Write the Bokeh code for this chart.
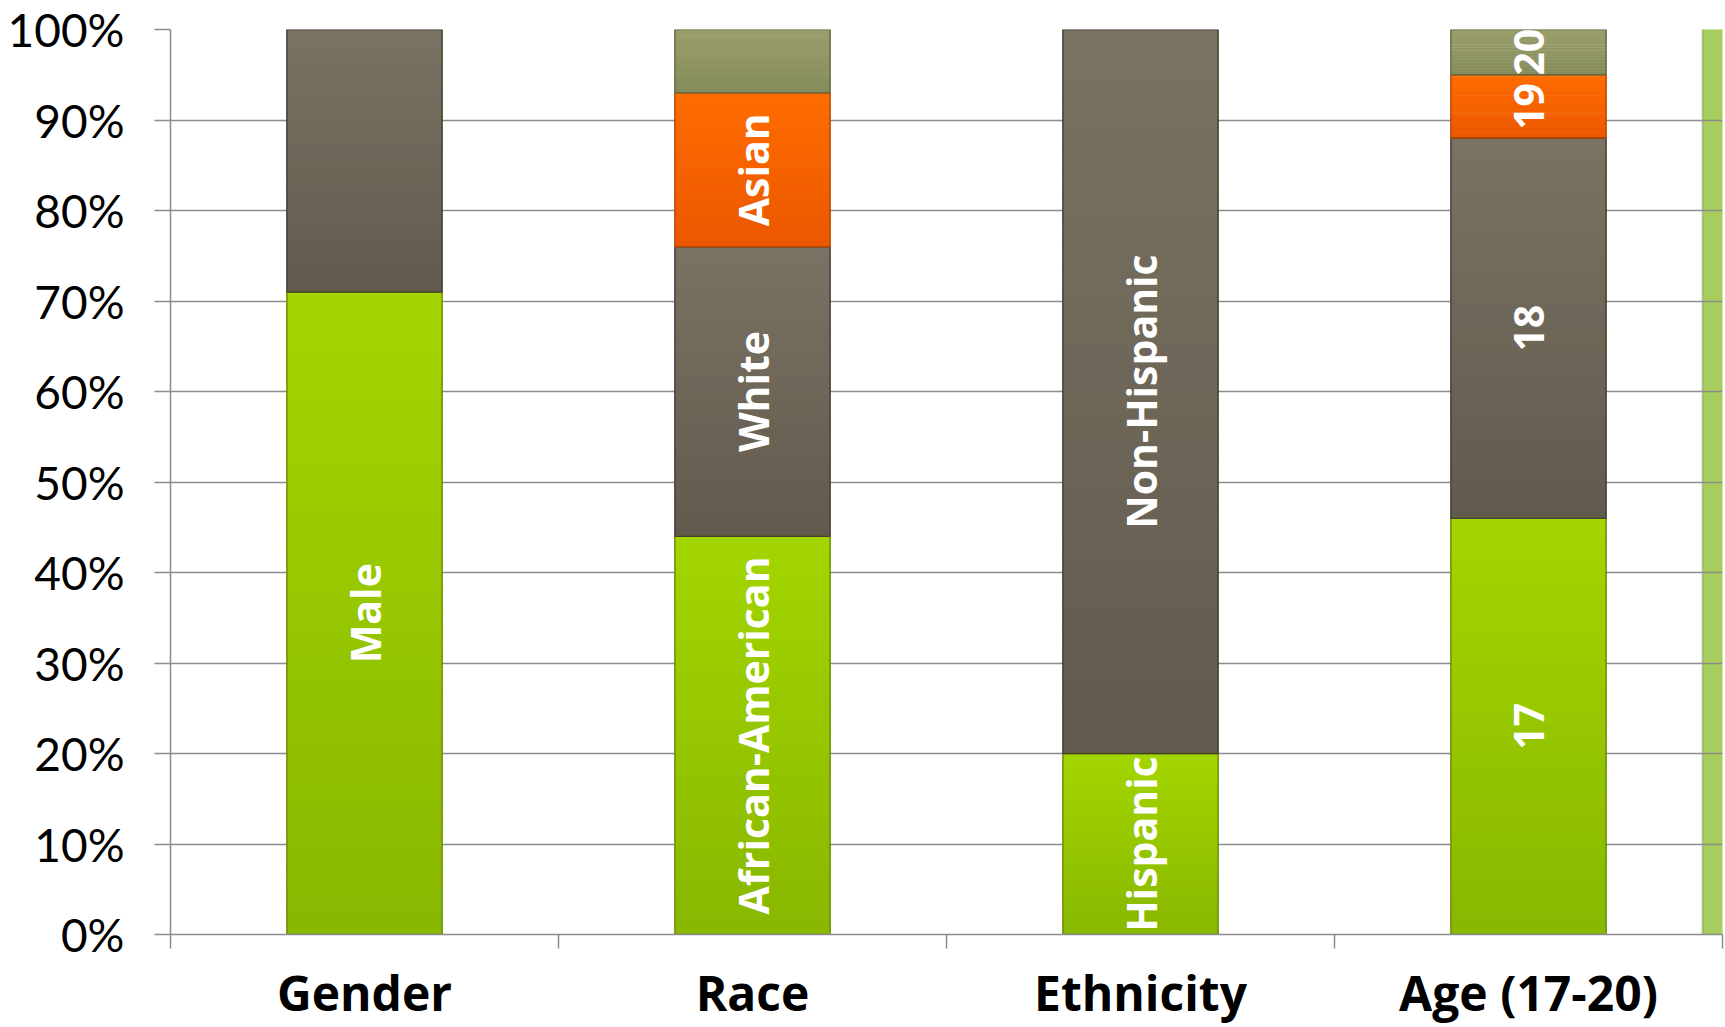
import numpy as np
from bokeh.plotting import figure
from bokeh.models import (Range1d, FixedTicker, LinearAxis, ColumnDataSource,
                          BoxAnnotation)
from bokeh.core.properties import value
from bokeh.embed import file_html
from bokeh.resources import INLINE

# ---- data ----
categories = ["Gender", "Race", "Ethnicity", "Age (17-20)"]
gender_labels = ["Male", ""]
gender_values = [71, 29]
race_labels = ["African-American", "White", "Asian", ""]
race_values = [44, 32, 17, 7]
ethnicity_labels = ["Hispanic", "Non-Hispanic"]
ethnicity_values = [20, 80]
age_labels = ["17", "18", "19", "20"]
age_values = [46, 42, 7, 5]
y_ticks = [0, 10, 20, 30, 40, 50, 60, 70, 80, 90, 100]

# styles (segment order: green, grey, orange, olive)
seg_top = ["#a3d600", "#7a7262", "#ff6c00", "#9a9f6c"]
seg_bot = ["#88b700", "#625a4d", "#eb5700", "#858a5a"]
seg_line = ["#6b8f00", "#463f35", "#b84800", "#666a42"]


def hex2rgb(h):
    return np.array([int(h[i:i + 2], 16) for i in (1, 3, 5)], dtype=float)


def rgb2hex(c):
    return "#%02x%02x%02x" % tuple(int(round(v)) for v in c)


groups = [(gender_labels, gender_values), (race_labels, race_values),
          (ethnicity_labels, ethnicity_values), (age_labels, age_values)]

xs, bottoms, tops, lines, labs, mids, segidx = [], [], [], [], [], [], []
for i, (labels, vals) in enumerate(groups):
    cum = 0
    for j, (lab, v) in enumerate(zip(labels, vals)):
        xs.append(i + 0.5)
        bottoms.append(cum)
        tops.append(cum + v)
        mids.append(cum + v / 2)
        lines.append(seg_line[j])
        labs.append(lab)
        segidx.append(j)
        cum += v

# vertical gradient: each segment is filled with thin bands
N = 30
gx, gb, gt, gc = [], [], [], []
for x, b, t, j in zip(xs, bottoms, tops, segidx):
    c0, c1 = hex2rgb(seg_bot[j]), hex2rgb(seg_top[j])
    for k in range(N):
        f = (k + 0.5) / N
        gx.append(x)
        gb.append(b + (t - b) * k / N)
        gt.append(b + (t - b) * (k + 1) / N + (0 if k == N - 1 else (t - b) * 0.01))
        gc.append(rgb2hex(c0 + (c1 - c0) * f))
grad = ColumnDataSource(dict(x=gx, bottom=gb, top=gt, fill=gc))
bars = ColumnDataSource(dict(x=xs, bottom=bottoms, top=tops, line=lines))

lab_idx = [k for k, l in enumerate(labs) if l]
texts = ColumnDataSource(dict(x=[xs[k] for k in lab_idx], y=[mids[k] for k in lab_idx],
                              text=[labs[k] for k in lab_idx]))

W, H = 1725, 1027
p = figure(width=W, height=H, output_backend="svg", toolbar_location=None,
           x_range=Range1d(0, 4), y_range=Range1d(0, 100),
           min_border_left=170, min_border_right=3,
           min_border_top=29, min_border_bottom=91,
           x_axis_location=None, y_axis_location=None)
p.outline_line_color = None
p.background_fill_color = "white"
p.border_fill_color = "white"

# decorative slide strip at the right
strip = BoxAnnotation(left=1702, right=1735, top=-10, bottom=H + 10,
                      left_units="canvas", right_units="canvas",
                      top_units="canvas", bottom_units="canvas",
                      fill_color="#a6cd5e", fill_alpha=1.0,
                      line_color="#55693a", line_width=2, level="image")
p.add_layout(strip)

p.vbar(x="x", bottom="bottom", top="top", width=0.40, source=grad,
       fill_color="fill", line_color=None)
p.vbar(x="x", bottom="bottom", top="top", width=0.40, source=bars,
       fill_color=None, line_color="line", line_width=1.5)

p.text(x="x", y="y", text="text", source=texts, angle=np.pi / 2,
       text_align="center", text_baseline="middle", text_color="white",
       text_font=value("Open Sans"), text_font_style="bold",
       text_font_size="41px")

# y axis
yax = LinearAxis(ticker=FixedTicker(ticks=y_ticks),
                 major_label_overrides={t: f"{t}%" for t in y_ticks})
yax.axis_line_color = "#8c8c8c"
yax.axis_line_width = 1.5
yax.major_tick_line_color = "#8c8c8c"
yax.major_tick_line_width = 1.5
yax.major_tick_out = 16
yax.major_tick_in = 0
yax.minor_tick_line_color = None
yax.major_label_standoff = 30
yax.major_label_text_font = "Lato"
yax.major_label_text_font_size = "46px"
yax.major_label_text_color = "black"
p.add_layout(yax, "left")

# x axis: category names at centres, ticks at boundaries (minor ticks)
xax = LinearAxis(ticker=FixedTicker(ticks=[i + 0.5 for i in range(len(categories))],
                                    minor_ticks=list(range(len(categories) + 1))),
                 major_label_overrides={i + 0.5: c for i, c in enumerate(categories)})
xax.axis_line_color = "#8c8c8c"
xax.axis_line_width = 1.5
xax.major_tick_line_color = None
xax.major_tick_out = 0
xax.major_tick_in = 0
xax.minor_tick_line_color = "#8c8c8c"
xax.minor_tick_line_width = 1.5
xax.minor_tick_out = 14
xax.minor_tick_in = 0
xax.major_label_standoff = 11
xax.major_label_text_font = "Open Sans"
xax.major_label_text_font_style = "bold"
xax.major_label_text_font_size = "48px"
xax.major_label_text_color = "black"
p.add_layout(xax, "below")

p.xgrid.visible = False
p.ygrid.ticker = FixedTicker(ticks=y_ticks)
p.ygrid.grid_line_color = "#8c8c8c"
p.ygrid.grid_line_width = 1.5

open("out.html", "w").write(file_html(p, INLINE))
